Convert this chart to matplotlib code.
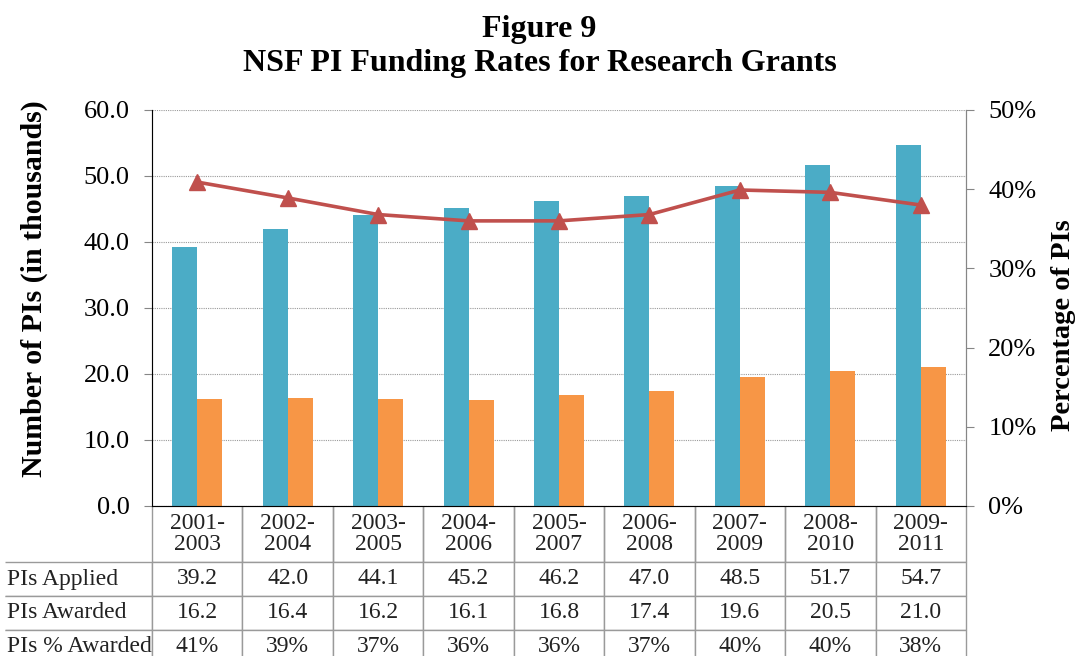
import matplotlib.pyplot as plt
from matplotlib.table import Table
import numpy as np

# data
periods = ['2001-\n2003', '2002-\n2004', '2003-\n2005', '2004-\n2006', '2005-\n2007',
           '2006-\n2008', '2007-\n2009', '2008-\n2010', '2009-\n2011']
applied = [39.2, 42.0, 44.1, 45.2, 46.2, 47.0, 48.5, 51.7, 54.7]
awarded = [16.2, 16.4, 16.2, 16.1, 16.8, 17.4, 19.6, 20.5, 21.0]
pct_awarded = [40.9, 38.9, 36.8, 36.0, 36.0, 36.8, 39.9, 39.6, 38.0]
row_names = ['PIs Applied', 'PIs Awarded', 'PIs % Awarded']

BLUE = '#4BACC6'
ORANGE = '#F79646'
RED = '#C0504D'
GREY = '#9A9A9A'
SERIF = 'Liberation Serif'

plt.rcParams['font.family'] = SERIF

fig = plt.figure(figsize=(10.79, 6.56), dpi=100)
ax = fig.add_axes([152 / 1079, 1 - 506 / 656, 814 / 1079, 396 / 656])

x = np.arange(len(periods))
w = 0.277
ax.bar(x - w / 2, applied, w, color=BLUE, zorder=2)
ax.bar(x + w / 2, awarded, w, color=ORANGE, zorder=2)
ax.set_xlim(-0.5, len(periods) - 0.5)
ax.set_ylim(0, 60)
ax.set_yticks(np.arange(0, 61, 10))
ax.set_yticklabels([f'{v:.1f}' for v in np.arange(0, 61, 10)], fontsize=19)
ax.set_xticks([])
ax.yaxis.grid(True, linestyle=(0, (1, 1)), color=GREY, linewidth=0.8, zorder=0)
ax.spines['top'].set_visible(False)
for s in ['left', 'right', 'bottom']:
    ax.spines[s].set_color('#868686')
ax.tick_params(axis='y', length=6, color='#868686', pad=10)
ax.set_ylabel('Number of PIs (in thousands)', fontsize=21.5, fontweight='bold')
ax.yaxis.set_label_coords(-0.128, 0.55)

ax2 = ax.twinx()
ax2.plot(x, pct_awarded, color=RED, linewidth=2.6, marker='^', markersize=12, zorder=3)
ax2.set_ylim(0, 50)
ax2.set_yticks(np.arange(0, 51, 10))
ax2.set_yticklabels([f'{v}%' for v in range(0, 51, 10)], fontsize=19)
ax2.spines['top'].set_visible(False)
ax2.spines['right'].set_color('#868686')
ax2.tick_params(axis='y', length=6, color='#868686', pad=10)
ax2.set_ylabel('Percentage of PIs', fontsize=20.5, fontweight='bold')
ax2.yaxis.set_label_coords(1.105, 0.457)

# data table under the plot
label_w = 147 / 814
col_w = 1 / len(periods)
head_h = 56 / 396
row_h = 34 / 396
tab = Table(ax, bbox=[0, -(head_h + 3 * row_h), 1, head_h + 3 * row_h])
cells = [[f'{v:.1f}' for v in applied],
         [f'{v:.1f}' for v in awarded],
         [f'{round(v):d}%' for v in pct_awarded]]
for j, p in enumerate(periods):
    c = tab.add_cell(0, j, col_w, head_h, text=p, loc='center')
    c.visible_edges = 'BLR'
for i, name in enumerate(row_names):
    c = tab.add_cell(i + 1, -1, label_w, row_h, text=name, loc='left')
    c.visible_edges = 'BTR'
    c.PAD = 0.015
    for j in range(len(periods)):
        tab.add_cell(i + 1, j, col_w, row_h, text=cells[i][j], loc='center')
tab.auto_set_font_size(False)
for (r, ccol), cell in tab.get_celld().items():
    cell.set_edgecolor(GREY)
    cell.set_linewidth(1.0)
    cell.get_text().set_fontsize(17)
    cell.get_text().set_fontfamily(SERIF)
    cell.get_text().set_color('#222222')
    cell.get_text().set_linespacing(1.05)
tab.set_clip_on(False)
ax.add_table(tab)

fig.text(0.5, 1 - 30 / 656, 'Figure 9', ha='center', va='center',
         fontsize=23, fontweight='bold')
fig.text(0.5, 1 - 63 / 656, 'NSF PI Funding Rates for Research Grants', ha='center',
         va='center', fontsize=23, fontweight='bold')

fig.savefig('out.png', dpi=100)
